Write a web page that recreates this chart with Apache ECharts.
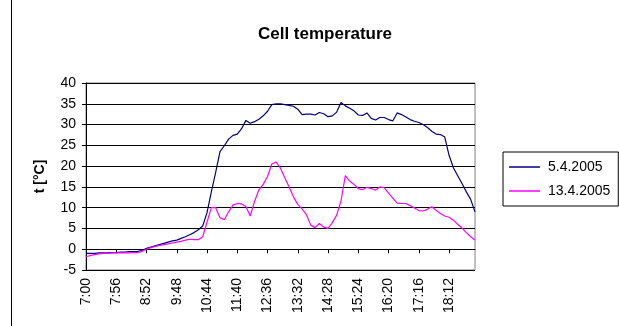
<!DOCTYPE html>
<html><head><meta charset="utf-8">
<script src="https://cdn.jsdelivr.net/npm/echarts@6/dist/echarts.min.js"></script>
<style>html,body{margin:0;padding:0;background:#fff}#c{width:619px;height:326px}</style>
</head><body><div id="c"></div>
<script>
var categories = ["7:00","7:08","7:16","7:24","7:32","7:40","7:48","7:56","8:04","8:12","8:20","8:28","8:36","8:44","8:52","9:00","9:08","9:16","9:24","9:32","9:40","9:48","9:56","10:04","10:12","10:20","10:28","10:36","10:44","10:52","11:00","11:08","11:16","11:24","11:32","11:40","11:48","11:56","12:04","12:12","12:20","12:28","12:36","12:44","12:52","13:00","13:08","13:16","13:24","13:32","13:40","13:48","13:56","14:04","14:12","14:20","14:28","14:36","14:44","14:52","15:00","15:08","15:16","15:24","15:32","15:40","15:48","15:56","16:04","16:12","16:20","16:28","16:36","16:44","16:52","17:00","17:08","17:16","17:24","17:32","17:40","17:48","17:56","18:04","18:12","18:20","18:28","18:36","18:44","18:52","19:00"];
var day1 = [-1.0,-1.0,-1.0,-0.9,-0.9,-0.9,-0.8,-0.8,-0.7,-0.7,-0.6,-0.6,-0.5,-0.3,0.2,0.5,0.8,1.1,1.4,1.7,2.0,2.2,2.6,3.0,3.5,4.0,4.7,5.6,8.8,13.8,18.5,23.5,24.9,26.5,27.4,27.7,29.0,31.0,30.3,30.7,31.3,32.1,33.2,34.8,35.0,35.0,34.8,34.6,34.4,33.7,32.4,32.5,32.5,32.3,32.9,32.6,31.9,32.1,33.0,35.3,34.5,33.9,33.3,32.3,32.2,32.8,31.5,31.1,31.7,31.7,31.2,30.9,32.8,32.4,31.8,31.2,30.8,30.5,30.0,29.3,28.4,27.7,27.6,27.0,22.6,19.6,17.7,15.8,13.8,12.0,9.0];
var day2 = [-1.8,-1.5,-1.3,-1.1,-1.0,-1.0,-0.9,-0.9,-0.9,-0.9,-0.9,-0.8,-0.8,-0.5,0.0,0.4,0.7,0.9,1.1,1.3,1.5,1.7,1.9,2.2,2.4,2.3,2.3,3.0,6.5,10.0,10.0,7.6,7.1,9.0,10.6,11.0,10.9,10.3,8.0,11.5,14.3,15.6,17.5,20.5,21.0,19.5,17.2,15.0,12.6,10.8,9.7,8.3,5.8,5.2,6.2,5.3,5.0,6.4,8.2,11.6,17.7,16.4,15.6,14.6,14.3,14.9,14.6,14.2,15.0,14.8,13.5,12.3,11.1,11.0,11.0,10.5,9.9,9.3,9.2,9.6,10.2,9.4,8.6,8.0,7.7,7.0,6.0,5.1,4.0,3.0,2.2];
var seriesNames = ["5.4.2005","13.4.2005"];
var yTicks = {min:-5, max:40, interval:5};

var FONT = "Arial, 'Liberation Sans', sans-serif";
var chart = echarts.init(document.getElementById('c'), null, {renderer:'canvas'});
chart.setOption({
  animation:false,
  backgroundColor:'#fff',
  title:{text:'Cell temperature', left:320, top:21, textAlign:'center',
    textStyle:{fontFamily:FONT, fontSize:17, fontWeight:'bold', color:'#000'}},
  graphic:[{type:'line', shape:{x1:11.5,y1:0,x2:11.5,y2:326}, style:{stroke:'#000', lineWidth:1}}],
  legend:{orient:'vertical', left:503, top:152, width:115, height:50,
    borderColor:'#000', borderWidth:1, padding:[8,8,8,6], itemGap:10,
    icon:'rect', itemWidth:31, itemHeight:1.5,
    textStyle:{fontFamily:FONT, fontSize:14, color:'#000', padding:[0,0,0,3]},
    data:seriesNames},
  grid:{left:86, top:83, right:144, bottom:56, show:true, borderColor:'#808080', borderWidth:1},
  xAxis:{type:'category', data:categories, boundaryGap:false,
    axisLine:{lineStyle:{color:'#000', width:1}},
    axisTick:{interval:6, length:4, lineStyle:{color:'#000'}},
    axisLabel:{interval:6, rotate:90, margin:8, fontFamily:FONT, fontSize:14, color:'#000'},
    splitLine:{show:false}},
  yAxis:{type:'value', min:yTicks.min, max:yTicks.max, interval:yTicks.interval,
    name:'t [°C]', nameLocation:'middle', nameGap:39,
    nameTextStyle:{fontFamily:FONT, fontSize:14, fontWeight:'bold', color:'#000'},
    axisLine:{show:true, lineStyle:{color:'#000', width:1}},
    axisTick:{show:true, length:4, lineStyle:{color:'#000'}},
    axisLabel:{margin:10, fontFamily:FONT, fontSize:14, color:'#000'},
    splitLine:{lineStyle:{color:'#000', width:1}}},
  series:[
    {name:seriesNames[0], type:'line', data:day1, showSymbol:false, symbol:'none',
      lineStyle:{color:'#000080', width:1.2}, itemStyle:{color:'#000080'}},
    {name:seriesNames[1], type:'line', data:day2, showSymbol:false, symbol:'none',
      lineStyle:{color:'#FF00FF', width:1.2}, itemStyle:{color:'#FF00FF'}}
  ]
});
</script></body></html>
